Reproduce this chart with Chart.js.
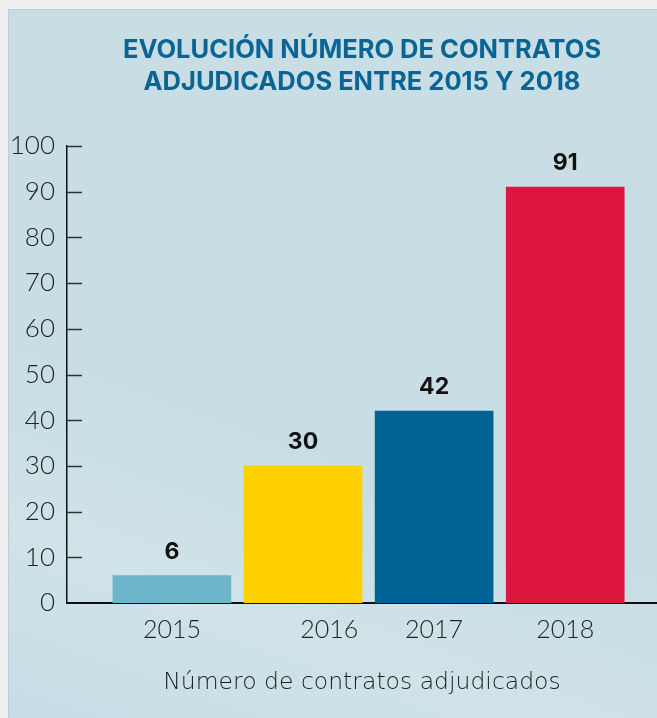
<!DOCTYPE html>
<html>
<head>
<meta charset="utf-8">
<script src="https://cdn.jsdelivr.net/npm/chart.js@4.4.1/dist/chart.umd.min.js"></script>
<style>
    html, body { margin: 0; padding: 0; background: #efefef; }
    #panel {
        position: absolute; left: 8px; top: 9px; width: 649px; height: 709px;
        background: linear-gradient(200deg, #c8dde4 60%, #cfe3e9 80%, #c6dde5 100%);
        border-left: 1px solid #b7ced7; border-top: 1px solid #b7ced7;
    }
    #wrap { position: absolute; left: 0; top: 0; width: 657px; height: 718px; }
</style>
</head>
<body>
<div id="panel"></div>
<div id="wrap"><canvas id="myChart" width="657" height="718"></canvas></div>
<script>
// data
const years = ['2015', '2016', '2017', '2018'];
const contratos = [6, 30, 42, 91];
const barColors = ['#6db5cb', '#fed000', '#006394', '#dc163f'];
const yTicks = [0, 10, 20, 30, 40, 50, 60, 70, 80, 90, 100];

const chartTitle = ['EVOLUCIÓN NÚMERO DE CONTRATOS', 'ADJUDICADOS ENTRE 2015 Y 2018'];
const axisTitle = 'Número de contratos adjudicados';

// the 2016 label sits a bit right of its bar in the original
const labelNudge = [0, 0.2, 0, 0];

// value labels on top of bars
const valueLabels = {
    id: 'valueLabels',
    afterDatasetsDraw(chart) {
        const ctx = chart.ctx;
        const meta = chart.getDatasetMeta(0);
        ctx.save();
        ctx.font = '700 23px Inter';
        ctx.fillStyle = '#111';
        ctx.textAlign = 'center';
        ctx.textBaseline = 'alphabetic';
        meta.data.forEach((bar, i) => {
            ctx.fillText(contratos[i], bar.x, bar.y - 17);
        });
        ctx.restore();
    }
};

// short ticks pointing into the plot
const innerTicks = {
    id: 'innerTicks',
    afterDraw(chart) {
        const ctx = chart.ctx;
        const y = chart.scales.y;
        const left = chart.chartArea.left;
        ctx.save();
        ctx.strokeStyle = '#333';
        ctx.lineWidth = 1.5;
        yTicks.forEach(v => {
            if (v === 0) return;
            const py = Math.round(y.getPixelForValue(v)) + 0.5;
            ctx.beginPath();
            ctx.moveTo(left, py);
            ctx.lineTo(left + 15, py);
            ctx.stroke();
        });
        ctx.restore();
    }
};

const ctx = document.getElementById('myChart').getContext('2d');
const data = {
    datasets: [{
        data: contratos.map((v, i) => ({x: i, y: v})),
        backgroundColor: barColors,
        borderWidth: 0,
        barThickness: 118
    }]
};
const config = {
    type: 'bar',
    data: data,
    plugins: [valueLabels, innerTicks],
    options: {
        responsive: false,
        animation: false,
        layout: {padding: 0},
        plugins: {
            legend: {display: false},
            tooltip: {enabled: false},
            title: {
                display: true,
                text: chartTitle,
                fullSize: false,
                color: '#0a6594',
                font: {family: 'Inter', weight: 'bold', size: 25.5, lineHeight: '32px'},
                padding: {top: 34, bottom: 48}
            }
        },
        scales: {
            x: {
                type: 'linear',
                min: -0.8,
                max: 3.7,
                offset: false,
                grid: {display: false, drawTicks: false},
                border: {display: true, color: '#111', width: 2},
                afterBuildTicks: function (scale) {
                    scale.ticks = years.map((yr, i) => ({value: i + labelNudge[i]}));
                },
                afterFit: function (scale) {
                    scale.height = 115;
                },
                ticks: {
                    padding: 12,
                    color: '#222',
                    font: {family: 'Lato', weight: 300, size: 25},
                    callback: function (value) {
                        return years[Math.round(value)];
                    }
                },
                title: {
                    display: true,
                    text: axisTitle,
                    color: '#1e1e1e',
                    font: {family: 'DejaVu Sans', weight: 200, size: 23.5},
                    padding: {top: 0, bottom: 21}
                }
            },
            y: {
                min: 0,
                max: 100,
                grid: {display: false, drawTicks: false},
                border: {display: true, color: '#111', width: 1.5},
                afterFit: function (scale) {
                    scale.width = 67;
                },
                ticks: {
                    stepSize: 10,
                    padding: 12,
                    color: '#222',
                    font: {family: 'Lato', weight: 300, size: 26}
                }
            }
        }
    }
};
const myChart = new Chart(ctx, config);
</script>
</body>
</html>
